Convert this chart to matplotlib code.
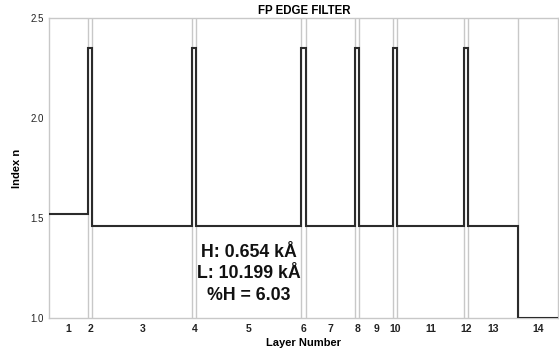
import numpy as np
import matplotlib
matplotlib.use("Agg")
import matplotlib.pyplot as plt

plt.rcParams['font.family'] = ['Liberation Sans', 'DejaVu Sans']

# Layer stack: substrate, alternating H/L coatings, then air
layer_numbers = list(range(1, 15))
thickness_kA = [0.98, 0.109, 2.515, 0.109, 2.649, 0.109, 1.244, 0.109,
                0.840, 0.109, 1.690, 0.109, 1.261, 1.01]
index_n = [1.52, 2.35, 1.46, 2.35, 1.46, 2.35, 1.46, 2.35,
           1.46, 2.35, 1.46, 2.35, 1.46, 1.00]
y_ticks = [1.0, 1.5, 2.0, 2.5]
summary_lines = ["H: 0.654 kÅ", "L: 10.199 kÅ", "%H = 6.03"]

edges = np.concatenate([[0.0], np.cumsum(thickness_kA)])
centers = (edges[:-1] + edges[1:]) / 2

fig = plt.figure(figsize=(5.59, 3.52), dpi=100)
ax = fig.add_axes([0.0882, 0.0966, 0.9106, 0.8523])

grid_col = '#c8c8c8'
for e in edges[1:-1]:
    ax.axvline(e, color=grid_col, lw=1.0, zorder=1)

ax.stairs(index_n, edges, baseline=None, color='#2b2b2b', lw=1.5, zorder=3)

ax.set_xlim(edges[0], edges[-1])
ax.set_ylim(1.0, 2.5)
ax.set_yticks(y_ticks)
ax.set_yticklabels([f"{v:.1f}" for v in y_ticks], fontsize=7, color='#222222')
ax.set_xticks(centers)
ax.set_xticklabels([str(n) for n in layer_numbers], fontsize=7.5,
                   fontweight='bold', color='#222222')
ax.tick_params(length=0, pad=4)

for s in ax.spines.values():
    s.set_color(grid_col)
    s.set_linewidth(1.0)

ax.set_xlabel("Layer Number", fontsize=8, fontweight='bold', labelpad=3)
ax.set_ylabel("Index n", fontsize=8, fontweight='bold', labelpad=6)
ax.set_title("FP EDGE FILTER", fontsize=8.3, fontweight='bold', pad=3)

for i, txt in enumerate(summary_lines):
    ax.text(0.392, 0.219 - i * 0.072, txt, transform=ax.transAxes,
            ha='center', va='center', fontsize=12.8, fontweight='bold',
            color='#111111', zorder=4)

fig.savefig("out.png", dpi=100)
